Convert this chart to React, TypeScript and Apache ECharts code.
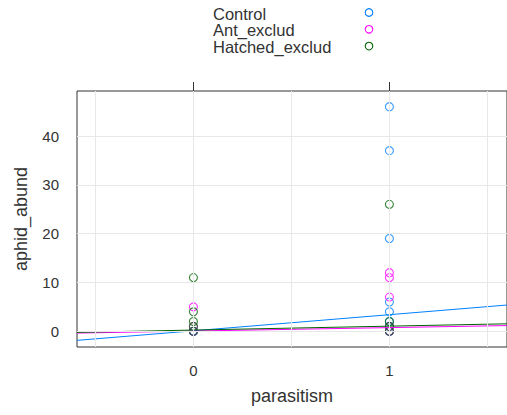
import React, { useEffect, useRef } from "react";
import * as echarts from "echarts";

// Groups, colours and observations (parasitism = 0/1, aphid abundance)
const groups = ["Control", "Ant_exclud", "Hatched_exclud"];
const groupColors = ["#0080ff", "#ff00ff", "#006400"];

const controlX = [1, 1, 1, 1, 1, 1, 1, 1, 0, 0];
const controlY = [46, 37, 19, 6, 4, 2, 1, 0, 0, 0];

const antX = [1, 1, 1, 1, 1, 0, 0, 0];
const antY = [12, 11, 7, 1, 0, 5, 1, 0];

const hatchedX = [1, 1, 1, 1, 0, 0, 0, 0, 0];
const hatchedY = [26, 2, 1, 0, 11, 4, 2, 1, 0];

// Fitted linear trend per group: intercept and slope
const fitIntercepts = [0.1, 0.05, 0.25];
const fitSlopes = [3.3, 0.7, 0.8];

// Axis ranges and ticks
const xRange = [-0.594, 1.6];
const yRange = [-3.22, 49.22];
const xTicks = [0, 1];
const yTicks = [0, 10, 20, 30, 40];
const xGrid = [-0.5, 0, 0.5, 1, 1.5];
const yGrid = [0, 10, 20, 30, 40];

const FONT = "'Liberation Sans', Arial, Helvetica, sans-serif";
const TEXT = "#333";

export default function App() {
  const ref = useRef<HTMLDivElement>(null);

  useEffect(() => {
    document.body.style.margin = "0";
    if (!ref.current) return;
    const chart = echarts.init(ref.current, null, { renderer: "svg" });

    const xs = [controlX, antX, hatchedX];
    const ys = [controlY, antY, hatchedY];

    const scatterSeries = groups.map((g, i) => ({
      type: "scatter",
      name: g,
      z: 3,
      symbol: "circle",
      symbolSize: 8,
      itemStyle: {
        color: "rgba(0,0,0,0)",
        borderColor: groupColors[i],
        borderWidth: 1.1,
      },
      data: xs[i].map((x, k) => [x, ys[i][k]]),
    }));

    const lineSeries = groups.map((g, i) => ({
      type: "line",
      name: g + " fit",
      z: 4,
      showSymbol: false,
      symbol: "none",
      lineStyle: { color: groupColors[i], width: 1 },
      data: xRange.map((x) => [x, fitIntercepts[i] + fitSlopes[i] * x]),
    }));

    const gridSeries = {
      type: "scatter",
      name: "grid",
      z: 1,
      silent: true,
      data: [],
      markLine: {
        silent: true,
        symbol: ["none", "none"],
        label: { show: false },
        lineStyle: { color: "#e8e8e8", width: 1, type: "solid" },
        data: [
          ...xGrid.map((v) => ({ xAxis: v })),
          ...yGrid.map((v) => ({ yAxis: v })),
        ],
      },
    };

    const tickStyle = { color: TEXT, width: 1 };

    chart.setOption({
      animation: false,
      textStyle: { fontFamily: FONT },
      grid: {
        left: 77,
        top: 91,
        width: 432,
        height: 256,
        show: true,
        borderColor: "#333",
        borderWidth: 1,
        backgroundColor: "transparent",
      },
      graphic: [
        // key: group names with their symbols to the right
        ...groups.map((g, i) => ({
          type: "text",
          x: 213,
          y: 13.8 + i * 16.6,
          style: {
            text: g,
            font: `16.5px ${FONT}`,
            fill: TEXT,
            verticalAlign: "middle",
          },
        })),
        ...groups.map((g, i) => ({
          type: "circle",
          shape: { cx: 369, cy: 12.5 + i * 16.8, r: 3.8 },
          style: { fill: "none", stroke: groupColors[i], lineWidth: 1.1 },
        })),
      ],
      xAxis: [
        {
          type: "value",
          position: "bottom",
          min: xRange[0],
          max: xRange[1],
          axisLine: { show: false },
          axisTick: { show: true, customValues: xTicks, length: 9, lineStyle: tickStyle },
          axisLabel: {
            customValues: xTicks,
            fontSize: 15,
            color: TEXT,
            margin: 16,
            fontFamily: FONT,
          },
          splitLine: { show: false },
          name: "parasitism",
          nameLocation: "middle",
          nameGap: 40,
          nameTextStyle: { fontSize: 18, color: TEXT, fontFamily: FONT },
        },
        {
          type: "value",
          position: "top",
          min: xRange[0],
          max: xRange[1],
          axisLine: { show: false },
          axisTick: { show: true, customValues: xTicks, length: 9, lineStyle: tickStyle },
          axisLabel: { show: false, customValues: xTicks },
          splitLine: { show: false },
        },
      ],
      yAxis: {
        type: "value",
        min: yRange[0],
        max: yRange[1],
        axisLine: { show: false },
        axisTick: { show: true, customValues: yTicks, length: 10, lineStyle: tickStyle },
        axisLabel: {
          customValues: yTicks,
          fontSize: 15,
          color: TEXT,
          margin: 18,
          fontFamily: FONT,
        },
        splitLine: { show: false },
        name: "aphid_abund",
        nameLocation: "middle",
        nameGap: 47,
        nameTextStyle: { fontSize: 18, color: TEXT, fontFamily: FONT },
      },
      series: [gridSeries, ...scatterSeries, ...lineSeries],
    });

    return () => chart.dispose();
  }, []);

  return <div ref={ref} style={{ width: 507, height: 415 }} />;
}
